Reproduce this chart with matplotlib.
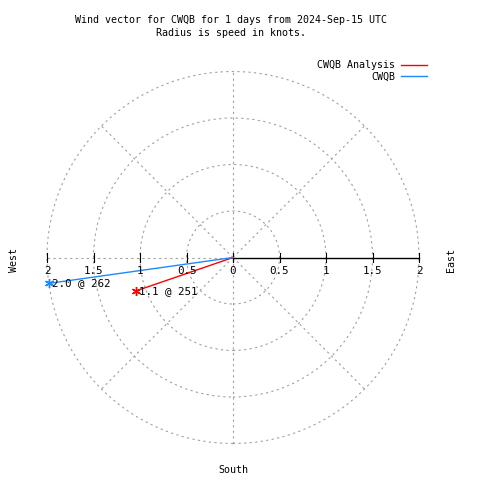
import numpy as np
import matplotlib
matplotlib.use('Agg')
import matplotlib.pyplot as plt
from matplotlib.patches import Circle

# data
series_names = ['CWQB Analysis', 'CWQB']
series_colors = ['#ff0000', '#1e88ff']
speeds = [1.1, 2.0]          # knots
directions = [251, 262]      # degrees from north

ring_radii = [0.5, 1.0, 1.5, 2.0]
tick_values = [0, 0.5, 1, 1.5, 2]
spoke_angles = [0, 45, 90, 135, 180, 225, 270, 315]

plt.rcParams['font.family'] = ['DejaVu Sans Mono']
fs = 7.2

fig = plt.figure(figsize=(4.8, 4.8), dpi=100)
scale = 93.0  # px per knot
cx, cy = 233.0, 257.5
ax = fig.add_axes([0, 0, 1, 1])
ax.set_xlim(-cx / scale, (480 - cx) / scale)
ax.set_ylim(-(480 - cy) / scale, cy / scale)
ax.axis('off')

grid_kw = dict(color='#a0a0a0', lw=0.8, ls=(0, (2, 3)))

# rings
for r in ring_radii:
    ax.add_patch(Circle((0, 0), r, fill=False, **grid_kw))

# spokes (east side is the solid axis)
rmax = ring_radii[-1]
for a in spoke_angles:
    if a == 90:
        continue
    t = np.radians(a)
    ax.plot([0, rmax * np.sin(t)], [0, rmax * np.cos(t)], **grid_kw)

# radial axis toward east, ticks both sides
ax.plot([0, rmax], [0, 0], color='black', lw=1)
for v in tick_values:
    for sgn in (1, -1):
        ax.plot([sgn * v, sgn * v], [-0.05, 0.05], color='black', lw=0.8)
        if v == 0 and sgn == -1:
            continue
        ax.text(sgn * v, -0.09, f'{v:g}', ha='center', va='top', fontsize=fs + 0.6)

# wind vectors
for name, col, s, d in zip(series_names, series_colors, speeds, directions):
    t = np.radians(d)
    x, y = s * np.sin(t), s * np.cos(t)
    ax.plot([0, x], [0, y], color=col, lw=1, label=name)
    ax.plot([x], [y], marker=(6, 2, 0), ms=6.5, color=col, mew=1, ls='none')
    ax.text(x + 0.03, y, f'{s:.1f} @ {d}', ha='left', va='center', fontsize=fs + 0.6)

fig.text(14 / 480, 1 - 260 / 480, 'West', rotation=90, ha='center', va='center', fontsize=fs)
fig.text(451 / 480, 1 - 260 / 480, 'East', rotation=90, ha='center', va='center', fontsize=fs)
fig.text(233 / 480, 1 - 470 / 480, 'South', ha='center', va='center', fontsize=fs)

fig.text(231 / 480, 1 - 20 / 480, 'Wind vector for CWQB for 1 days from 2024-Sep-15 UTC',
         ha='center', va='center', fontsize=fs)
fig.text(231 / 480, 1 - 33 / 480, 'Radius is speed in knots.',
         ha='center', va='center', fontsize=fs)

ax.legend(loc='upper right', bbox_to_anchor=(432 / 480, 1 - 55 / 480),
          bbox_transform=fig.transFigure, frameon=False, markerfirst=False,
          fontsize=fs, handlelength=2.6, labelspacing=0.15, borderpad=0,
          handletextpad=0.6)

fig.savefig('out.png', dpi=100)
